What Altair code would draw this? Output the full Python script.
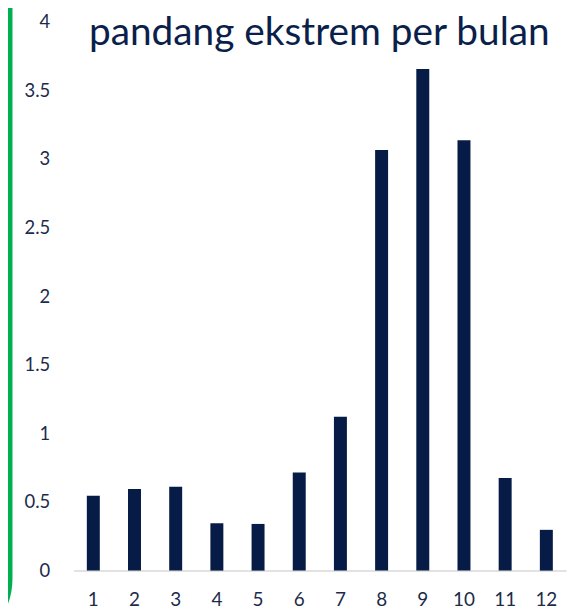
import altair as alt
import pandas as pd

months = ["1", "2", "3", "4", "5", "6", "7", "8", "9", "10", "11", "12"]
values = [0.545, 0.595, 0.61, 0.345, 0.34, 0.715, 1.12, 3.065, 3.655, 3.135, 0.675, 0.297]
y_ticks = [0, 0.5, 1, 1.5, 2, 2.5, 3, 3.5, 4]
title_text = "pandang ekstrem per bulan"

NAVY = "#061C47"
TEXT = "#1C2B4C"
FONT = "Lato"

df = pd.DataFrame({"bulan": months, "nilai": values})

bars = alt.Chart(df).mark_bar(color=NAVY).encode(
    x=alt.X(
        "bulan:O",
        sort=months,
        title=None,
        scale=alt.Scale(paddingInner=0.685, paddingOuter=0.32),
        axis=alt.Axis(
            labelAngle=0,
            labelFont=FONT,
            labelFontSize=19,
            labelColor=TEXT,
            labelBaseline="alphabetic",
            labelPadding=35,
            ticks=False,
            domainColor="#D9D9D9",
            domainWidth=1.5,
            grid=False,
        ),
    ),
    y=alt.Y(
        "nilai:Q",
        title=None,
        scale=alt.Scale(domain=[0, 4], nice=False),
        axis=alt.Axis(
            values=y_ticks,
            format="~g",
            labelFont=FONT,
            labelFontSize=18.5,
            labelColor=TEXT,
            labelPadding=24,
            ticks=False,
            domain=False,
            grid=False,
        ),
    ),
)

title_df = pd.DataFrame({"t": [title_text]})
title = alt.Chart(title_df).mark_text(
    font=FONT, fontSize=39, color="#0B1F4B", align="center", baseline="alphabetic"
).encode(text="t:N", x=alt.value(247), y=alt.value(24))

border_df = pd.DataFrame({"b": [1]})
border = alt.Chart(border_df).mark_rect(
    fill=None, fillOpacity=0, stroke="#00B050", strokeWidth=5, cornerRadius=68
).encode(
    x=alt.value(-400), x2=alt.value(-64), y=alt.value(-300), y2=alt.value(628)
)

chart = alt.layer(border, bars, title).properties(
    width=495,
    height=552,
    background="white",
    autosize=alt.AutoSizeParams(type="none"),
    padding={"left": 66, "top": 12, "right": 2, "bottom": 40},
).configure_view(stroke=None, strokeWidth=0)

chart.save("out.html", embed_options={"renderer": "svg", "actions": False})
